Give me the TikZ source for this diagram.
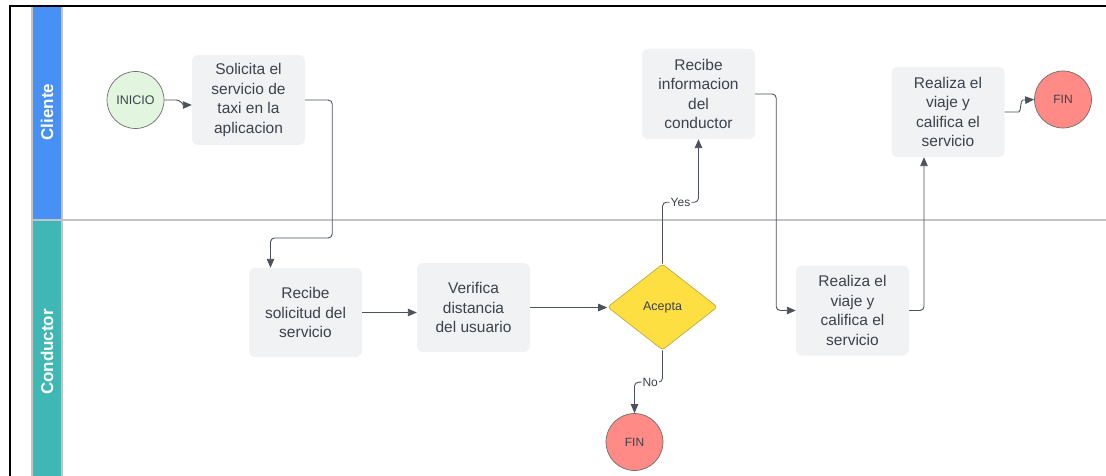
\documentclass[tikz,border=0pt]{standalone}
\usepackage{fontspec}
\setmainfont{Liberation Sans}
\usetikzlibrary{arrows.meta,shapes.geometric}

\definecolor{laneblue}{HTML}{4690F6}
\definecolor{laneteal}{HTML}{3FB8B5}
\definecolor{laneedge}{HTML}{C4C4C4}
\definecolor{boxfill}{HTML}{F1F2F4}
\definecolor{txt}{HTML}{3B424C}
\definecolor{wire}{HTML}{4B525C}
\definecolor{startfill}{HTML}{E2F6DF}
\definecolor{endfill}{HTML}{FF8A86}
\definecolor{decfill}{HTML}{FEDF42}
\definecolor{decedge}{HTML}{B9A340}
\definecolor{ringedge}{HTML}{6E6E6E}

\begin{document}
\begin{tikzpicture}[x=1pt,y=-1pt,
  task/.style={fill=boxfill, rounded corners=6pt, minimum width=113pt,
    minimum height=90pt, inner sep=0pt, align=center, text=txt,
    font=\fontsize{15.5}{19.5}\selectfont},
  ring/.style={circle, draw=ringedge, line width=0.7pt, minimum size=57pt,
    inner sep=0pt, text=txt, font=\fontsize{12}{14}\selectfont},
  decision/.style={diamond, fill=decfill, draw=decedge, line width=0.6pt,
    minimum width=110pt, minimum height=86pt, inner sep=0pt,
    rounded corners=3pt, text=txt, font=\fontsize{12.5}{14}\selectfont},
  flow/.style={draw=wire, line width=0.9pt, rounded corners=4pt,
    -{Triangle[length=9pt,width=7.5pt]}},
  tag/.style={fill=white, inner sep=1pt, text=txt,
    font=\fontsize{12}{14}\selectfont},
  lanetitle/.style={rotate=90, text=white, font=\fontsize{17}{20}\bfseries\selectfont}
]
\useasboundingbox (0,0) rectangle (1106,476);

% outer frame (top and left edges)
\draw[line width=2pt, black] (10,476) -- (10,6) -- (1106,6);

% swimlane headers
\fill[laneblue] (32,7) rectangle (62,220);
\fill[laneteal] (32,220) rectangle (62,476);
\draw[laneedge, line width=1.3pt] (32,476) -- (32,7);
\draw[laneedge, line width=1.3pt] (62,476) -- (62,7);
\draw[laneedge, line width=1.5pt] (32,220) -- (1106,220);
\node[lanetitle] (lane1) at (47,112) {Cliente};
\node[lanetitle] (lane2) at (47,352) {Conductor};

% nodes
\node[ring, fill=startfill, font=\fontsize{12.5}{14}\selectfont] (ini) at (135.5,100) {INICIO};
\node[task] (sol) at (248.5,100) {Solicita el\\servicio de\\taxi en la\\aplicacion};
\node[task, minimum height=89pt] (rec) at (305.5,312.5) {Recibe\\solicitud del\\servicio};
\node[task, minimum height=89pt] (ver) at (473.5,307.5) {Verifica\\distancia\\del usuario};
\node[decision] (dec) at (662.5,307) {Acepta};
\node[ring, fill=endfill] (fin1) at (634.5,442) {FIN};
\node[task] (info) at (698.5,94) {Recibe\\informacion\\del\\conductor};
\node[task] (real1) at (852.5,310.5) {Realiza el\\viaje y\\califica el\\servicio};
\node[task] (real2) at (948,112) {Realiza el\\viaje y\\califica el\\servicio};
\node[ring, fill=endfill] (fin2) at (1063,99.5) {FIN};

% connectors
\draw[flow] (ini.east) -- ++(8,0) to[out=0,in=180] ([yshift=-5pt]sol.west);
\draw[flow] (sol.east) -- ++(27,0) -- ++(0,138) -| ([xshift=-35pt]rec.north);
\draw[flow] (rec.east) -- (rec.east -| ver.west);
\draw[flow] (ver.east) -- (ver.east -| dec.west);
\draw[flow] (dec.north) |- ([yshift=-63pt]info.south)
  node[tag, pos=0.75] {Yes} -- (info.south);
\draw[flow] (dec.south) |- ([yshift=31pt]fin1.north)
  node[tag, pos=0.72] {No} -- (fin1.north);
\draw[flow] (info.east) -- ++(21,0) |- (real1.west);
\draw[flow] (real1.east) -| ([xshift=-24pt]real2.south);
\draw[flow] (real2.east) -- ++(10,0) to[out=0,in=180] ++(12,-12) -- (fin2.west);
\end{tikzpicture}
\end{document}
